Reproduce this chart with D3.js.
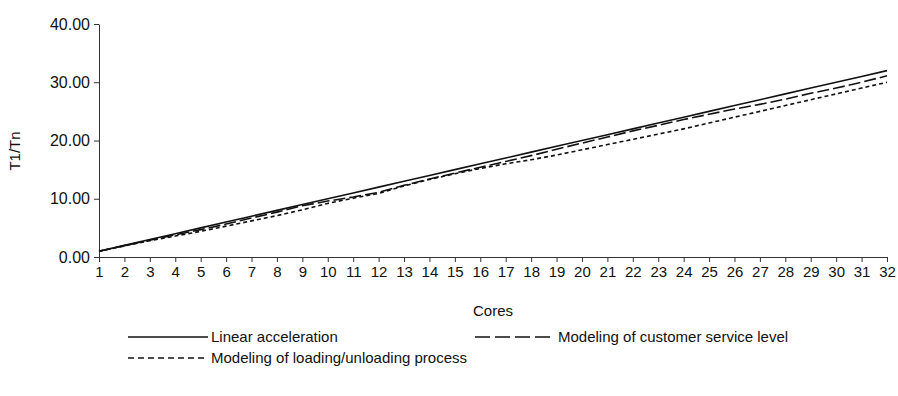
<!DOCTYPE html>
<html>
<head>
<meta charset="utf-8">
<script src="https://cdn.jsdelivr.net/npm/d3@7"></script>
<style>
	body { margin: 0; background: #fff; }
	svg text { font-family: "Liberation Sans", Arial, sans-serif; fill: #111; }
</style>
</head>
<body>
<svg id="chart" width="898" height="396"></svg>
<script>
// cores on x axis
var cores = d3.range(1, 33);
var linearAcc = [1, 2, 3, 4, 5, 6, 7, 8, 9, 10, 11, 12, 13, 14, 15, 16,
	17, 18, 19, 20, 21, 22, 23, 24, 25, 26, 27, 28, 29, 30, 31, 32];
var customerLevel = [1.00, 1.95, 2.90, 3.80, 4.70, 5.65, 6.70, 7.70, 8.80, 9.60, 10.30, 11.10,
	12.30, 13.40, 14.40, 15.40, 16.40, 17.40, 18.50, 19.55, 20.60, 21.65, 22.60, 23.60,
	24.50, 25.40, 26.20, 27.10, 28.10, 29.00, 30.00, 31.10];
var loadingProcess = [1.00, 1.90, 2.80, 3.60, 4.40, 5.30, 6.20, 7.10, 8.10, 9.20, 10.10, 10.90,
	12.20, 13.30, 14.30, 15.20, 16.00, 16.70, 17.50, 18.40, 19.30, 20.20, 21.10, 22.00,
	23.00, 24.00, 25.00, 26.00, 27.00, 28.00, 29.00, 30.00];
var yTicks = [0, 10, 20, 30, 40];
var seriesNames = ["Linear acceleration", "Modeling of customer service level",
	"Modeling of loading/unloading process"];

var margin = { top: 24, right: 11, bottom: 139, left: 99 };
var width = 898, height = 396;

var svg = d3.select("#chart");

var xScale = d3.scaleLinear()
	.domain([1, 32])
	.range([margin.left, width - margin.right]);

var yScale = d3.scaleLinear()
	.domain([0, 40])
	.range([height - margin.bottom, margin.top]);

// axes
var xAxis = svg.append("g")
	.attr("transform", "translate(0," + (height - margin.bottom) + ")")
	.call(d3.axisBottom(xScale).tickValues(cores).tickFormat(d3.format("d")).tickSize(5).tickSizeOuter(0));

var yAxis = svg.append("g")
	.attr("transform", "translate(" + margin.left + ",0)")
	.call(d3.axisLeft(yScale).tickValues(yTicks).tickFormat(d3.format(".2f")).tickSize(5).tickSizeOuter(0));

svg.selectAll(".domain, .tick line").attr("stroke", "#333");
xAxis.selectAll("text").attr("font-size", 15).attr("dy", "0.95em").attr("y", 6);
yAxis.selectAll("text").attr("font-size", 16).attr("x", -9);

svg.append("text")
	.attr("x", (margin.left + width - margin.right) / 2)
	.attr("y", 316)
	.attr("text-anchor", "middle")
	.attr("font-size", 15)
	.text("Cores");

svg.append("text")
	.attr("transform", "translate(20,151) rotate(-90)")
	.attr("text-anchor", "middle")
	.attr("font-size", 15)
	.text("T1/Tn");

var series = [
	{ name: seriesNames[0], values: linearAcc, dash: null },
	{ name: seriesNames[1], values: customerLevel, dash: "12,4" },
	{ name: seriesNames[2], values: loadingProcess, dash: "4,3" }
];

var line = d3.line()
	.x(function(d, i) { return xScale(cores[i]); })
	.y(function(d) { return yScale(d); });

svg.append("g").selectAll("path")
	.data(series)
	.enter()
	.append("path")
	.attr("d", function(d) { return line(d.values); })
	.attr("fill", "none")
	.attr("stroke", "#111")
	.attr("stroke-width", 1.6)
	.attr("stroke-dasharray", function(d) { return d.dash; });

// legend
var legendPos = [[128, 337], [475, 337], [128, 358]];
var legend = svg.append("g").selectAll("g")
	.data(series)
	.enter()
	.append("g")
	.attr("transform", function(d, i) { return "translate(" + legendPos[i][0] + "," + legendPos[i][1] + ")"; });

legend.append("line")
	.attr("x1", 0).attr("x2", 80)
	.attr("stroke", "#111")
	.attr("stroke-width", 1.4)
	.attr("stroke-dasharray", function(d, i) { return i == 1 ? "15,5" : (i == 2 ? "6,4" : null); });

legend.append("text")
	.attr("x", 83)
	.attr("dy", "0.35em")
	.attr("font-size", 15)
	.text(function(d) { return d.name; });
</script>
</body>
</html>
